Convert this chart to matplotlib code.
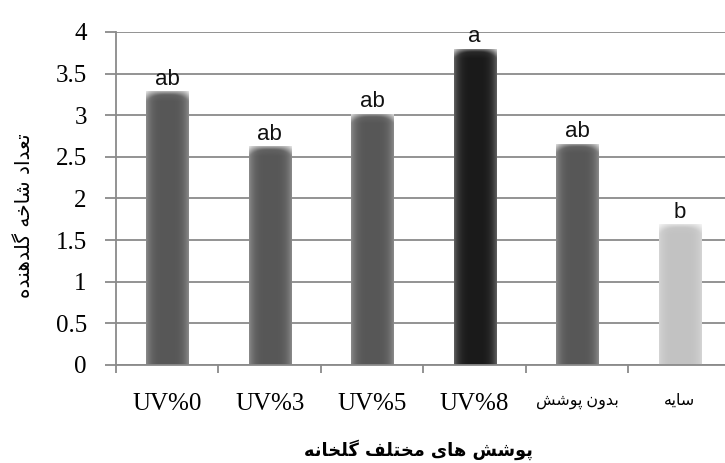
import numpy as np
import matplotlib

matplotlib.use('agg')
import matplotlib.pyplot as plt
from matplotlib.colors import to_rgb

# data
categories = ['UV%0', 'UV%3', 'UV%5', 'UV%8', 'بدون پوشش', 'سایه']
values = [3.29, 2.63, 3.02, 3.80, 2.66, 1.69]
letters = ['ab', 'ab', 'ab', 'a', 'ab', 'b']
y_ticks = [0, 0.5, 1, 1.5, 2, 2.5, 3, 3.5, 4]
y_tick_labels = ['0', '0.5', '1', '1.5', '2', '2.5', '3', '3.5', '4']
y_label = 'تعداد شاخه گلدهنده'
x_label = 'پوشش های مختلف گلخانه'
bar_colors = ['#575757', '#575757', '#575757', '#1a1a1a', '#575757', '#c2c2c2']

GRID = '#8a8a8a'

# matplotlib does no arabic shaping, so pick presentation forms by hand
# (isolated, final, initial, medial)
FORMS = {
    'ا': ('\uFE8D', '\uFE8E', None, None),
    'ب': ('\uFE8F', '\uFE90', '\uFE91', '\uFE92'),
    'ت': ('\uFE95', '\uFE96', '\uFE97', '\uFE98'),
    'خ': ('\uFEA5', '\uFEA6', '\uFEA7', '\uFEA8'),
    'د': ('\uFEA9', '\uFEAA', None, None),
    'س': ('\uFEB1', '\uFEB2', '\uFEB3', '\uFEB4'),
    'ش': ('\uFEB5', '\uFEB6', '\uFEB7', '\uFEB8'),
    'ع': ('\uFEC9', '\uFECA', '\uFECB', '\uFECC'),
    'ف': ('\uFED1', '\uFED2', '\uFED3', '\uFED4'),
    'ل': ('\uFEDD', '\uFEDE', '\uFEDF', '\uFEE0'),
    'م': ('\uFEE1', '\uFEE2', '\uFEE3', '\uFEE4'),
    'ن': ('\uFEE5', '\uFEE6', '\uFEE7', '\uFEE8'),
    'ه': ('\uFEE9', '\uFEEA', '\uFEEB', '\uFEEC'),
    'و': ('\uFEED', '\uFEEE', None, None),
    'ی': ('\uFBFC', '\uFBFD', '\uFBFE', '\uFBFF'),
    'پ': ('\uFB56', '\uFB57', '\uFB58', '\uFB59'),
    'گ': ('\uFB92', '\uFB93', '\uFB94', '\uFB95'),
}


def shape(text):
    if not any(ch in FORMS for ch in text):
        return text
    out = []
    for i, ch in enumerate(text):
        if ch not in FORMS:
            out.append(ch)
            continue
        prev = text[i - 1] if i > 0 else ''
        nxt = text[i + 1] if i + 1 < len(text) else ''
        join_prev = prev in FORMS and FORMS[prev][2] is not None
        join_next = nxt in FORMS and FORMS[ch][2] is not None
        iso, fin, ini, med = FORMS[ch]
        if join_prev and join_next:
            out.append(med)
        elif join_prev:
            out.append(fin)
        elif join_next:
            out.append(ini)
        else:
            out.append(iso)
    return ''.join(reversed(out))


fig = plt.figure(figsize=(7.25, 4.63), dpi=100)
ax = fig.add_axes([0.16, 0.2117, 0.848, 0.7192])

x = np.arange(len(categories))
bars = ax.bar(x, values, width=0.41, color=bar_colors, zorder=2)

# fake the excel cylinder look: lighter sides and a bevel at the top
for bar, col in zip(bars, bar_colors):
    x0, w, h = bar.get_x(), bar.get_width(), bar.get_height()
    u = np.linspace(0, 1, 60)
    v = np.linspace(0, h, 400)
    uu, vv = np.meshgrid(u, v)
    side = np.abs(2 * uu - 1)
    k = 0.3 * side ** 4
    d = (h - vv) / 0.12
    bevel = np.clip(1 - d, 0, 1)
    # light rim on the top, curving down at the sides
    rim = np.clip(1 - d / (0.35 + 0.65 * side ** 3), 0, 1)
    k = k + 0.45 * rim ** 1.2 + 0.1 * bevel
    k = np.clip(k, 0, 0.85)[..., None]
    c = np.array(to_rgb(col))
    img = c + (1 - c) * k
    im = ax.imshow(img, extent=(x0, x0 + w, 0, h), origin='lower',
                   aspect='auto', interpolation='bilinear', zorder=2)
    im.set_clip_path(bar)

for xi, v, lab in zip(x, values, letters):
    ax.annotate(lab, (xi, v), xytext=(0, 4.5), textcoords='offset points',
                ha='center', va='baseline', fontsize=16,
                family='Liberation Sans', color='#111111')

ax.set_xlim(-0.5, len(categories) - 0.5)
ax.set_ylim(0, 4)

ax.set_yticks(y_ticks)
ax.set_yticklabels(y_tick_labels, family='Liberation Serif', fontsize=18)
ax.set_xticks(x)
ax.set_xticklabels([shape(c) for c in categories],
                   family=['Liberation Serif', 'DejaVu Sans'], fontsize=18)
for lab, c in zip(ax.get_xticklabels(), categories):
    if shape(c) != c:
        lab.set_fontsize(11.5)
ax.set_xticks(np.arange(-0.5, len(categories)), minor=True)

ax.tick_params(axis='y', length=8, width=1.3, color=GRID, pad=13)
ax.tick_params(axis='x', which='major', length=0, pad=20)
ax.tick_params(axis='x', which='minor', length=6, width=1.3, color=GRID)

ax.yaxis.grid(True, color=GRID, lw=1.3, zorder=0)
ax.set_axisbelow(True)
for side in ['top', 'right']:
    ax.spines[side].set_visible(False)
for side in ['left', 'bottom']:
    ax.spines[side].set_color(GRID)
    ax.spines[side].set_linewidth(1.3)

fig.text(25 / 725, 1 - 216 / 463, shape(y_label), rotation=90,
         ha='center', va='center', fontsize=14.5, family='DejaVu Sans')
fig.text(418 / 725, 1 - 450 / 463, shape(x_label), ha='center',
         va='center', fontsize=12.8, fontweight='bold', family='DejaVu Sans')

plt.savefig('out.png', dpi=100)
